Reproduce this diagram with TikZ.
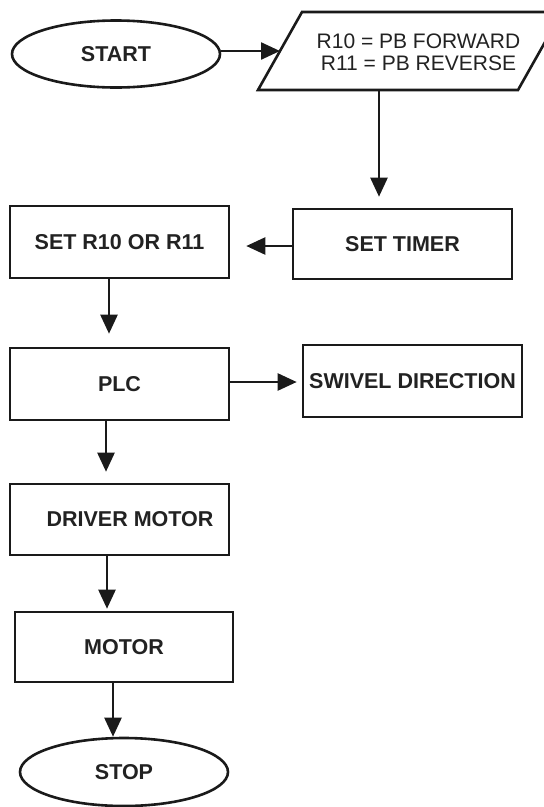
\documentclass[tikz,border=0pt]{standalone}
\usepackage{fontspec}
\setmainfont{Liberation Sans}
\usetikzlibrary{shapes.geometric,arrows.meta}
\newcommand{\flowbf}{\fontsize{21.5}{23}\selectfont\bfseries}
\newcommand{\flowrm}{\fontsize{21}{22}\selectfont}
\definecolor{ink}{HTML}{1A1A1A}
\definecolor{txt}{HTML}{222222}
\begin{document}
\begin{tikzpicture}[x=1pt,y=-1pt,
  line width=2.6pt, draw=ink,
  box/.style={draw=ink, rectangle, minimum width=219pt, minimum height=71pt,
    inner sep=0pt, font=\flowbf, text=txt},
  term/.style={draw=ink, ellipse, minimum width=208pt, minimum height=67pt,
    inner sep=0pt, font=\flowbf, text=txt},
  flow/.style={draw=ink, line width=2.4pt, -{Triangle[length=19pt,width=17pt]}},
]
\fill[white] (0,0) rectangle (544,807);
\useasboundingbox (0,0) rectangle (544,807);

% input parallelogram (runs past the right edge of the page)
\draw[ink, line join=miter] (258,90) -- (302,12) -- (562,12) -- (518,90) -- cycle;
\coordinate (paraleft) at (280,51);
\coordinate (parabottom) at (379,90);
\node[font=\flowrm, text=txt, align=center, inner sep=0pt] (paratext) at (418.5,52.5)
  {R10 = PB FORWARD\\R11 = PB REVERSE};

% terminals and process blocks
\node[term] (start) at (116,54) {START};
\node[box, minimum height=70pt] (timer) at (402.5,244) {SET TIMER};
\node[box, minimum height=72pt] (setr) at (119.5,242) {SET R10 OR R11};
\node[box, minimum height=72pt] (plc) at (119.5,384) {PLC};
\node[box, minimum height=72pt] (swivel) at (412.5,381) {SWIVEL DIRECTION};
\node[box] (driver) at (119.5,519.5) {\hspace*{21pt}DRIVER MOTOR};
\node[box, minimum width=218pt, minimum height=70pt] (motor) at (124,647) {MOTOR};
\node[term, minimum height=68pt] (stop) at (124,772) {STOP};

% connectors
\draw[flow] (start.east |- paraleft) -- (paraleft);
\draw[flow, shorten >=11pt] (parabottom) -- (parabottom |- timer.north);
\draw[flow, shorten >=16pt] ([yshift=-2pt]timer.west) -- ([yshift=-2pt]timer.west -| setr.east);
\draw[flow, shorten >=13pt] ([xshift=-10.5pt]setr.south) -- ([xshift=-10.5pt]plc.north);
\draw[flow, shorten >=5pt] ([yshift=2pt]plc.east) -- ([yshift=2pt]plc.east -| swivel.west);
\draw[flow, shorten >=11pt] ([xshift=-13.5pt]plc.south) -- ([xshift=-13.5pt]driver.north);
\draw[flow, shorten >=2pt] ([xshift=-12.5pt]driver.south) -- ([xshift=-12.5pt]driver.south |- motor.north);
\draw[flow] ([xshift=-11pt]motor.south) -- ([xshift=-11pt]motor.south |- stop.north);
\end{tikzpicture}
\end{document}
